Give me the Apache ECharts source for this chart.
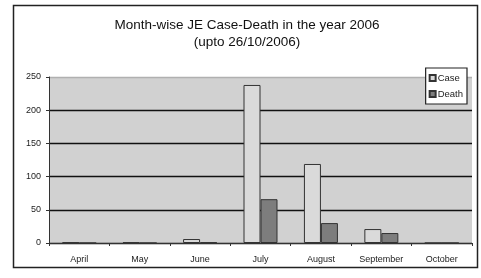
<!DOCTYPE html>
<html><head><meta charset="utf-8">
<script src="https://cdn.jsdelivr.net/npm/echarts@6/dist/echarts.min.js"></script>
<style>html,body{margin:0;padding:0;background:#fff}#c{width:481px;height:278px}</style>
</head><body><div id="c"></div>
<script>
const months = ["April","May","June","July","August","September","October"];
const caseValues = [1, 1, 6, 238, 119, 21, 0];
const deathValues = [0, 0, 1, 66, 30, 15, 0];
const yTicks = [0, 50, 100, 150, 200, 250];

const chart = echarts.init(document.getElementById('c'), null, {renderer:'canvas'});
chart.setOption({
  animation:false,
  backgroundColor:'#fff',
  textStyle:{fontFamily:'Liberation Sans, Arial, sans-serif'},
  graphic:[{type:'rect', shape:{x:13.5,y:5.5,width:464,height:262}, style:{fill:'none',stroke:'#222',lineWidth:1.5}, z:-1}],
  title:{
    text:'Month-wise JE Case-Death in the year 2006\n(upto 26/10/2006)',
    left:242, textAlign:'center', top:12,
    textStyle:{fontSize:13.5,fontWeight:'normal',color:'#111',lineHeight:17,fontFamily:'Liberation Sans, Arial',
      textShadowColor:'#111',textShadowBlur:0,textShadowOffsetX:0.5}
  },
  legend:{
    data:['Case','Death'], orient:'vertical', right:14, top:68,
    itemWidth:6, itemHeight:6, itemGap:6, padding:[5,4,5,3],
    borderColor:'#222', borderWidth:1.2, backgroundColor:'#fff',
    textStyle:{fontSize:9.5,color:'#222',padding:[0,0,0,-3]},
    icon:'rect'
  },
  grid:{left:49,right:9,top:77,bottom:35,show:true,backgroundColor:'#d1d1d1',borderWidth:0},
  xAxis:{
    type:'category', data:months,
    axisLine:{lineStyle:{color:'#333',width:1}},
    axisTick:{show:true,length:3,inside:false,lineStyle:{color:'#333'}},
    axisLabel:{fontSize:9,color:'#222',margin:12}
  },
  yAxis:{
    type:'value', min:0, max:250, interval:50,
    axisLine:{show:true,lineStyle:{color:'#333',width:1}},
    axisTick:{show:true,length:3,lineStyle:{color:'#333'}},
    axisLabel:{fontSize:9,color:'#222',margin:8,formatter:v=>yTicks.includes(v)?String(v):''},
    splitLine:{show:true,lineStyle:{color:['#111','#111','#111','#111','#111','#b0b0b0'],width:1.4}}
  },
  series:[
    {name:'Case',type:'bar',data:caseValues,barWidth:17,barGap:'0%',
     itemStyle:{color:'#dadada',borderColor:'#333',borderWidth:1}},
    {name:'Death',type:'bar',data:deathValues,barWidth:17,
     itemStyle:{color:'#7d7d7d',borderColor:'#333',borderWidth:1}}
  ]
});
</script></body></html>
